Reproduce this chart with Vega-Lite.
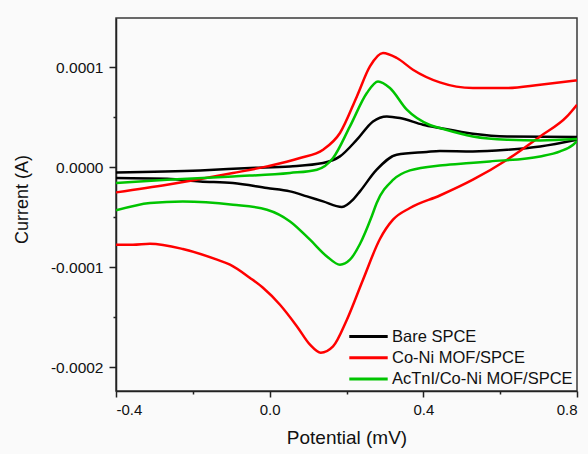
{
  "$schema": "https://vega.github.io/schema/vega-lite/v6.json",
  "autosize": "none",
  "width": 461,
  "height": 373,
  "padding": {"left": 116, "top": 18, "right": 11, "bottom": 63},
  "background": "#fafafa",
  "config": {
    "font": "Liberation Sans",
    "view": {"stroke": "#3a3a3a", "strokeWidth": 1.5},
    "axis": {
      "domainColor": "#222222",
      "domainWidth": 1.5,
      "tickColor": "#222222",
      "tickWidth": 1.5,
      "labelColor": "#111111",
      "labelFont": "Liberation Sans",
      "labelFontSize": 15,
      "titleFont": "Liberation Sans",
      "titleColor": "#111111",
      "titleFontSize": 18,
      "titleFontWeight": "normal",
      "grid": false
    },
    "legend": {"labelFont": "Liberation Sans"}
  },
  "data": {
    "values": [
      {"s": "Bare SPCE", "b": "f", "x": -0.4, "y": -0.0000054},
      {"s": "Bare SPCE", "b": "f", "x": -0.181, "y": -0.0000034},
      {"s": "Bare SPCE", "b": "f", "x": -0.051, "y": -0.000001},
      {"s": "Bare SPCE", "b": "f", "x": 0.053, "y": 0.0000006},
      {"s": "Bare SPCE", "b": "f", "x": 0.139, "y": 0.000004},
      {"s": "Bare SPCE", "b": "f", "x": 0.183, "y": 0.0000106},
      {"s": "Bare SPCE", "b": "f", "x": 0.227, "y": 0.0000273},
      {"s": "Bare SPCE", "b": "f", "x": 0.269, "y": 0.0000456},
      {"s": "Bare SPCE", "b": "f", "x": 0.305, "y": 0.0000506},
      {"s": "Bare SPCE", "b": "f", "x": 0.339, "y": 0.000049},
      {"s": "Bare SPCE", "b": "f", "x": 0.399, "y": 0.0000423},
      {"s": "Bare SPCE", "b": "f", "x": 0.443, "y": 0.000039},
      {"s": "Bare SPCE", "b": "f", "x": 0.529, "y": 0.0000333},
      {"s": "Bare SPCE", "b": "f", "x": 0.618, "y": 0.0000306},
      {"s": "Bare SPCE", "b": "f", "x": 0.8, "y": 0.00003},
      {"s": "Bare SPCE", "b": "r", "x": 0.8, "y": 0.0000273},
      {"s": "Bare SPCE", "b": "r", "x": 0.704, "y": 0.0000206},
      {"s": "Bare SPCE", "b": "r", "x": 0.618, "y": 0.0000173},
      {"s": "Bare SPCE", "b": "r", "x": 0.529, "y": 0.0000156},
      {"s": "Bare SPCE", "b": "r", "x": 0.443, "y": 0.000016},
      {"s": "Bare SPCE", "b": "r", "x": 0.4087, "y": 0.000015},
      {"s": "Bare SPCE", "b": "r", "x": 0.3306, "y": 0.0000123},
      {"s": "Bare SPCE", "b": "r", "x": 0.2786, "y": -0.0000027},
      {"s": "Bare SPCE", "b": "r", "x": 0.235, "y": -0.0000244},
      {"s": "Bare SPCE", "b": "r", "x": 0.217, "y": -0.0000327},
      {"s": "Bare SPCE", "b": "r", "x": 0.188, "y": -0.00004},
      {"s": "Bare SPCE", "b": "r", "x": 0.139, "y": -0.0000344},
      {"s": "Bare SPCE", "b": "r", "x": 0.097, "y": -0.0000294},
      {"s": "Bare SPCE", "b": "r", "x": 0.053, "y": -0.0000244},
      {"s": "Bare SPCE", "b": "r", "x": -0.007, "y": -0.000021},
      {"s": "Bare SPCE", "b": "r", "x": -0.0955, "y": -0.000016},
      {"s": "Bare SPCE", "b": "r", "x": -0.181, "y": -0.0000144},
      {"s": "Bare SPCE", "b": "r", "x": -0.267, "y": -0.0000117},
      {"s": "Bare SPCE", "b": "r", "x": -0.4, "y": -0.000011},

      {"s": "Co-Ni MOF/SPCE", "b": "f", "x": -0.4, "y": -0.0000254},
      {"s": "Co-Ni MOF/SPCE", "b": "f", "x": -0.267, "y": -0.0000177},
      {"s": "Co-Ni MOF/SPCE", "b": "f", "x": -0.0955, "y": -0.000006},
      {"s": "Co-Ni MOF/SPCE", "b": "f", "x": -0.007, "y": 0.0000006},
      {"s": "Co-Ni MOF/SPCE", "b": "f", "x": 0.079, "y": 0.000009},
      {"s": "Co-Ni MOF/SPCE", "b": "f", "x": 0.139, "y": 0.0000173},
      {"s": "Co-Ni MOF/SPCE", "b": "f", "x": 0.183, "y": 0.000034},
      {"s": "Co-Ni MOF/SPCE", "b": "f", "x": 0.227, "y": 0.0000706},
      {"s": "Co-Ni MOF/SPCE", "b": "f", "x": 0.261, "y": 0.0001006},
      {"s": "Co-Ni MOF/SPCE", "b": "f", "x": 0.295, "y": 0.000114},
      {"s": "Co-Ni MOF/SPCE", "b": "f", "x": 0.331, "y": 0.000109},
      {"s": "Co-Ni MOF/SPCE", "b": "f", "x": 0.373, "y": 0.0000973},
      {"s": "Co-Ni MOF/SPCE", "b": "f", "x": 0.443, "y": 0.0000846},
      {"s": "Co-Ni MOF/SPCE", "b": "f", "x": 0.529, "y": 0.000079},
      {"s": "Co-Ni MOF/SPCE", "b": "f", "x": 0.618, "y": 0.000079},
      {"s": "Co-Ni MOF/SPCE", "b": "f", "x": 0.704, "y": 0.0000823},
      {"s": "Co-Ni MOF/SPCE", "b": "f", "x": 0.8, "y": 0.0000866},
      {"s": "Co-Ni MOF/SPCE", "b": "r", "x": 0.8, "y": 0.0000623},
      {"s": "Co-Ni MOF/SPCE", "b": "r", "x": 0.774, "y": 0.0000506},
      {"s": "Co-Ni MOF/SPCE", "b": "r", "x": 0.704, "y": 0.0000306},
      {"s": "Co-Ni MOF/SPCE", "b": "r", "x": 0.618, "y": 0.0000073},
      {"s": "Co-Ni MOF/SPCE", "b": "r", "x": 0.529, "y": -0.0000127},
      {"s": "Co-Ni MOF/SPCE", "b": "r", "x": 0.443, "y": -0.0000285},
      {"s": "Co-Ni MOF/SPCE", "b": "r", "x": 0.3652, "y": -0.000041},
      {"s": "Co-Ni MOF/SPCE", "b": "r", "x": 0.321, "y": -0.0000527},
      {"s": "Co-Ni MOF/SPCE", "b": "r", "x": 0.287, "y": -0.000072},
      {"s": "Co-Ni MOF/SPCE", "b": "r", "x": 0.243, "y": -0.0001127},
      {"s": "Co-Ni MOF/SPCE", "b": "r", "x": 0.201, "y": -0.0001527},
      {"s": "Co-Ni MOF/SPCE", "b": "r", "x": 0.165, "y": -0.0001794},
      {"s": "Co-Ni MOF/SPCE", "b": "r", "x": 0.133, "y": -0.0001857},
      {"s": "Co-Ni MOF/SPCE", "b": "r", "x": 0.105, "y": -0.0001777},
      {"s": "Co-Ni MOF/SPCE", "b": "r", "x": 0.0711, "y": -0.0001594},
      {"s": "Co-Ni MOF/SPCE", "b": "r", "x": 0.0269, "y": -0.0001377},
      {"s": "Co-Ni MOF/SPCE", "b": "r", "x": -0.0174, "y": -0.0001207},
      {"s": "Co-Ni MOF/SPCE", "b": "r", "x": -0.051, "y": -0.000111},
      {"s": "Co-Ni MOF/SPCE", "b": "r", "x": -0.1033, "y": -0.0000977},
      {"s": "Co-Ni MOF/SPCE", "b": "r", "x": -0.137, "y": -0.0000927},
      {"s": "Co-Ni MOF/SPCE", "b": "r", "x": -0.226, "y": -0.000082},
      {"s": "Co-Ni MOF/SPCE", "b": "r", "x": -0.3115, "y": -0.0000767},
      {"s": "Co-Ni MOF/SPCE", "b": "r", "x": -0.356, "y": -0.0000777},
      {"s": "Co-Ni MOF/SPCE", "b": "r", "x": -0.4, "y": -0.0000777},

      {"s": "AcTnI/Co-Ni MOF/SPCE", "b": "f", "x": -0.4, "y": -0.000016},
      {"s": "AcTnI/Co-Ni MOF/SPCE", "b": "f", "x": -0.267, "y": -0.0000127},
      {"s": "AcTnI/Co-Ni MOF/SPCE", "b": "f", "x": -0.0955, "y": -0.0000094},
      {"s": "AcTnI/Co-Ni MOF/SPCE", "b": "f", "x": 0.053, "y": -0.000006},
      {"s": "AcTnI/Co-Ni MOF/SPCE", "b": "f", "x": 0.123, "y": -0.0000027},
      {"s": "AcTnI/Co-Ni MOF/SPCE", "b": "f", "x": 0.165, "y": 0.000009},
      {"s": "AcTnI/Co-Ni MOF/SPCE", "b": "f", "x": 0.209, "y": 0.0000406},
      {"s": "AcTnI/Co-Ni MOF/SPCE", "b": "f", "x": 0.253, "y": 0.000074},
      {"s": "AcTnI/Co-Ni MOF/SPCE", "b": "f", "x": 0.282, "y": 0.0000856},
      {"s": "AcTnI/Co-Ni MOF/SPCE", "b": "f", "x": 0.313, "y": 0.000079},
      {"s": "AcTnI/Co-Ni MOF/SPCE", "b": "f", "x": 0.357, "y": 0.0000573},
      {"s": "AcTnI/Co-Ni MOF/SPCE", "b": "f", "x": 0.417, "y": 0.000042},
      {"s": "AcTnI/Co-Ni MOF/SPCE", "b": "f", "x": 0.443, "y": 0.000039},
      {"s": "AcTnI/Co-Ni MOF/SPCE", "b": "f", "x": 0.529, "y": 0.0000306},
      {"s": "AcTnI/Co-Ni MOF/SPCE", "b": "f", "x": 0.618, "y": 0.0000273},
      {"s": "AcTnI/Co-Ni MOF/SPCE", "b": "f", "x": 0.704, "y": 0.0000266},
      {"s": "AcTnI/Co-Ni MOF/SPCE", "b": "f", "x": 0.8, "y": 0.000028},
      {"s": "AcTnI/Co-Ni MOF/SPCE", "b": "r", "x": 0.8, "y": 0.000026},
      {"s": "AcTnI/Co-Ni MOF/SPCE", "b": "r", "x": 0.79, "y": 0.0000223},
      {"s": "AcTnI/Co-Ni MOF/SPCE", "b": "r", "x": 0.756, "y": 0.0000156},
      {"s": "AcTnI/Co-Ni MOF/SPCE", "b": "r", "x": 0.704, "y": 0.0000106},
      {"s": "AcTnI/Co-Ni MOF/SPCE", "b": "r", "x": 0.573, "y": 0.0000056},
      {"s": "AcTnI/Co-Ni MOF/SPCE", "b": "r", "x": 0.5214, "y": 0.000004},
      {"s": "AcTnI/Co-Ni MOF/SPCE", "b": "r", "x": 0.45, "y": 0.0000018},
      {"s": "AcTnI/Co-Ni MOF/SPCE", "b": "r", "x": 0.3652, "y": -0.0000034},
      {"s": "AcTnI/Co-Ni MOF/SPCE", "b": "r", "x": 0.3218, "y": -0.0000127},
      {"s": "AcTnI/Co-Ni MOF/SPCE", "b": "r", "x": 0.2786, "y": -0.000036},
      {"s": "AcTnI/Co-Ni MOF/SPCE", "b": "r", "x": 0.266, "y": -0.000049},
      {"s": "AcTnI/Co-Ni MOF/SPCE", "b": "r", "x": 0.235, "y": -0.000077},
      {"s": "AcTnI/Co-Ni MOF/SPCE", "b": "r", "x": 0.209, "y": -0.0000927},
      {"s": "AcTnI/Co-Ni MOF/SPCE", "b": "r", "x": 0.183, "y": -0.0000977},
      {"s": "AcTnI/Co-Ni MOF/SPCE", "b": "r", "x": 0.149, "y": -0.0000894},
      {"s": "AcTnI/Co-Ni MOF/SPCE", "b": "r", "x": 0.105, "y": -0.0000727},
      {"s": "AcTnI/Co-Ni MOF/SPCE", "b": "r", "x": 0.053, "y": -0.0000544},
      {"s": "AcTnI/Co-Ni MOF/SPCE", "b": "r", "x": -0.007, "y": -0.0000427},
      {"s": "AcTnI/Co-Ni MOF/SPCE", "b": "r", "x": -0.0955, "y": -0.0000377},
      {"s": "AcTnI/Co-Ni MOF/SPCE", "b": "r", "x": -0.226, "y": -0.0000344},
      {"s": "AcTnI/Co-Ni MOF/SPCE", "b": "r", "x": -0.3115, "y": -0.000036},
      {"s": "AcTnI/Co-Ni MOF/SPCE", "b": "r", "x": -0.4, "y": -0.0000434}
    ]
  },
  "mark": {"type": "line", "interpolate": "monotone", "strokeWidth": 2.5, "clip": true},
  "encoding": {
    "x": {
      "field": "x",
      "type": "quantitative",
      "scale": {"domain": [-0.4, 0.8], "nice": false, "zero": false},
      "axis": {
        "title": "Potential (mV)",
        "values": [-0.4, -0.2, 0, 0.2, 0.4, 0.6, 0.8],
        "labelExpr": "abs(datum.value*2.5 - round(datum.value*2.5)) < 0.01 ? replace(format(datum.value, '.1f'), '\u2212', '-') : ''",
        "tickSize": {"condition": {"test": "abs(datum.value*2.5 - round(datum.value*2.5)) < 0.01", "value": 6}, "value": 3},
        "labelFontSize": 15,
        "titleFontSize": 19,
        "labelPadding": 5,
        "titlePadding": 11
      }
    },
    "y": {
      "field": "y",
      "type": "quantitative",
      "scale": {"domain": [-0.000224, 0.000149], "nice": false, "zero": false},
      "axis": {
        "title": "Current (A)",
        "values": [-0.0002, -0.00015, -0.0001, -0.00005, 0, 0.00005, 0.0001],
        "labelExpr": "abs(datum.value*10000 - round(datum.value*10000)) < 0.01 ? replace(format(datum.value, '.4f'), '\u2212', '-') : ''",
        "tickSize": {"condition": {"test": "abs(datum.value*10000 - round(datum.value*10000)) < 0.01", "value": 7}, "value": 3},
        "labelFontSize": 15.5,
        "titleFontSize": 18,
        "labelPadding": 6,
        "titlePadding": 19,
        "titleY": 181
      }
    },
    "detail": {"field": "b"},
    "color": {
      "field": "s",
      "type": "nominal",
      "scale": {
        "domain": ["Bare SPCE", "Co-Ni MOF/SPCE", "AcTnI/Co-Ni MOF/SPCE"],
        "range": ["#000000", "#ff0000", "#00c400"]
      },
      "legend": {
        "title": null,
        "orient": "none",
        "legendX": 243,
        "legendY": 309,
        "symbolType": "M-2.4,0H2.4",
        "symbolSize": 256,
        "symbolStrokeWidth": 3,
        "symbolFillColor": "transparent",
        "labelFontSize": 16.5,
        "labelColor": "#111111",
        "labelOffset": 14,
        "rowPadding": 3.3,
        "padding": 0,
        "labelLimit": 300
      }
    }
  }
}
